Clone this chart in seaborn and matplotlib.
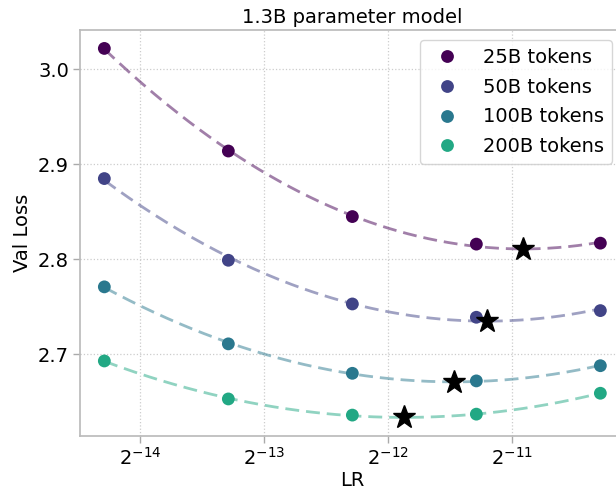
import numpy as np
import matplotlib
matplotlib.use("Agg")
import matplotlib.pyplot as plt
import seaborn as sns
import pandas as pd

lrs = [5e-5, 1e-4, 2e-4, 4e-4, 8e-4]
labels = ["25B tokens", "50B tokens", "100B tokens", "200B tokens"]
loss_25b = [3.022, 2.914, 2.845, 2.816, 2.817]
loss_50b = [2.885, 2.799, 2.753, 2.739, 2.746]
loss_100b = [2.771, 2.711, 2.680, 2.672, 2.688]
loss_200b = [2.693, 2.653, 2.636, 2.637, 2.659]
all_losses = [loss_25b, loss_50b, loss_100b, loss_200b]

sns.set_theme(style="white")
plt.rcParams['font.family'] = ['DejaVu Sans']
plt.rcParams['text.color'] = 'black'
plt.rcParams['axes.labelcolor'] = 'black'
plt.rcParams['xtick.color'] = '#aaaaaa'
plt.rcParams['ytick.color'] = '#aaaaaa'
plt.rcParams['xtick.labelcolor'] = 'black'
plt.rcParams['ytick.labelcolor'] = 'black'

colors = plt.cm.viridis([0.0, 0.2, 0.4, 0.6])

fig = plt.figure(figsize=(6.16, 4.93), dpi=100)
ax = fig.add_axes([80/616, (493-436)/493, 545/616, 406/493])

rows = []
for lab, vals in zip(labels, all_losses):
    for lr, v in zip(lrs, vals):
        rows.append({"LR": lr, "loss": v, "tokens": lab})
df = pd.DataFrame(rows)

for lab, vals, c in zip(labels, all_losses, colors):
    lx = np.log2(lrs)
    coef = np.polyfit(lx, vals, 2)
    xs = np.linspace(lx.min(), lx.max(), 200)
    ys = np.polyval(coef, xs)
    ax.plot(2.0 ** xs, ys, ls=(0, (5, 2.5)), color=c, alpha=0.5, lw=2, zorder=2)
    xm = -coef[1] / (2 * coef[0])
    ax.plot([2.0 ** xm], [np.polyval(coef, xm)], marker="*", color="black",
            markersize=17, ls="none", zorder=5)

sns.scatterplot(data=df, x="LR", y="loss", hue="tokens", palette=list(colors),
                s=85, edgecolor="none", ax=ax, zorder=4)

ax.set_xscale("log", base=2)
ax.set_xlim(2 ** -14.484, 2 ** -10.089)
ax.set_ylim(2.614, 3.0414)
ax.set_yticks([2.7, 2.8, 2.9, 3.0])
ax.set_xticks([2 ** -14, 2 ** -13, 2 ** -12, 2 ** -11])
ax.minorticks_off()
ax.grid(True, ls=":", color="#cccccc", lw=0.9)
for s in ax.spines.values():
    s.set_color("#bbbbbb")
ax.tick_params(axis="both", labelsize=14, length=5, width=1, pad=3, direction="out",
               bottom=True, left=True)
ax.set_xlabel("LR", fontsize=14, labelpad=1.5)
ax.set_ylabel("Val Loss", fontsize=14, labelpad=4)
ax.set_title("1.3B parameter model", fontsize=14, pad=5)
leg = ax.legend(fontsize=14, loc="upper right", bbox_to_anchor=(0.976, 0.975),
                frameon=True, markerscale=1.0, handletextpad=0.85, borderpad=0.4,
                labelspacing=0.55, borderaxespad=0)
leg.get_frame().set_edgecolor("#cccccc")
fig.savefig("out.png", dpi=100)
